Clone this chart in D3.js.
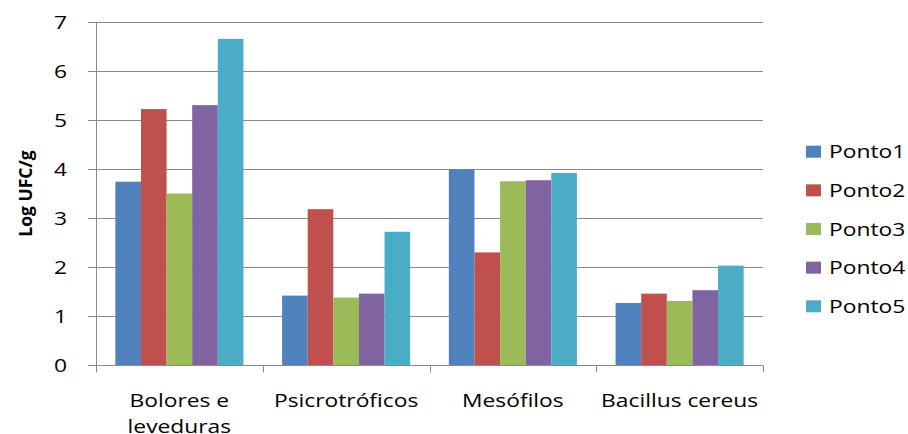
<!DOCTYPE html>
<html><head><meta charset="utf-8">
<script src="https://cdn.jsdelivr.net/npm/d3@7"></script>
<style>body{margin:0;background:#fff}svg{display:block}</style>
</head><body>
<svg id="c" width="908" height="434"></svg>
<script>
const categories = [["Bolores e","leveduras"],["Psicrotróficos"],["Mesófilos"],["Bacillus cereus"]];
const seriesNames = ["Ponto1","Ponto2","Ponto3","Ponto4","Ponto5"];
const ponto1 = [3.74, 1.42, 3.99, 1.27];
const ponto2 = [5.22, 3.18, 2.30, 1.46];
const ponto3 = [3.50, 1.38, 3.75, 1.31];
const ponto4 = [5.30, 1.46, 3.77, 1.53];
const ponto5 = [6.65, 2.72, 3.92, 2.03];
const yTicks = [0,1,2,3,4,5,6,7];
const colors = ["#4F81BD","#C0504D","#9BBB59","#8064A2","#4BACC6"];

(function(){
const series = [ponto1,ponto2,ponto3,ponto4,ponto5];
const svg = d3.select("#c");
const L = 96, R = 763, T = 21.7, B = 365.3;
const font = "'Open Sans', sans-serif";
const stretch = 1.2;
function widen(sel){
  sel.each(function(){
    const w = this.getComputedTextLength();
    d3.select(this).attr("textLength", w*stretch).attr("lengthAdjust","spacingAndGlyphs");
  });
}

const x0 = d3.scaleBand().domain(d3.range(categories.length)).range([L,R]).paddingInner(0.232).paddingOuter(0.116);
const x1 = d3.scaleBand().domain(d3.range(series.length)).range([0,x0.bandwidth()]);
const y = d3.scaleLinear().domain([0,7]).range([B,T]);

// gridlines
svg.append("g").selectAll("line").data(yTicks.filter(d=>d>0)).join("line")
  .attr("x1",L-8).attr("x2",R).attr("y1",d=>Math.round(y(d))+0.5).attr("y2",d=>Math.round(y(d))+0.5)
  .attr("stroke","#8a8a8a").attr("stroke-width",1);

// bars
const g = svg.append("g");
categories.forEach((c,ci)=>{
  series.forEach((s,si)=>{
    g.append("rect").attr("x",x0(ci)+x1(si)).attr("width",x1.bandwidth())
      .attr("y",y(s[ci])).attr("height",y(0)-y(s[ci]))
      .attr("fill",colors[si]);
  });
});

// y axis
const yAxis = d3.axisLeft(y).tickValues(yTicks).tickSize(8).tickPadding(14).tickFormat(d3.format("d"));
const ya = svg.append("g").attr("transform",`translate(${L+0.5},0)`).call(yAxis);
ya.select(".domain").attr("stroke","#8a8a8a").attr("d",`M0,${T}V${B}`);
ya.selectAll(".tick line").attr("stroke","#8a8a8a");
ya.selectAll(".tick").attr("transform",d=>`translate(0,${Math.round(y(d))+0.5})`);
ya.selectAll("text").attr("font-family",font).attr("font-size",19).attr("fill","#000").attr("text-anchor","middle").attr("x",-36).call(widen);

// x axis
const xa = svg.append("g").attr("transform",`translate(0,${Math.round(B)+0.5})`);
xa.append("line").attr("x1",L-8).attr("x2",R).attr("stroke","#8a8a8a");
const bounds = d3.range(categories.length+1).map(i=>L+(R-L)*i/categories.length);
xa.selectAll("line.t").data(bounds).join("line").attr("class","t")
  .attr("x1",d=>Math.round(d)+0.5).attr("x2",d=>Math.round(d)+0.5).attr("y1",0).attr("y2",7).attr("stroke","#8a8a8a");
categories.forEach((c,ci)=>{
  c.forEach((line,li)=>{
    xa.append("text").attr("x",x0(ci)+x0.bandwidth()/2).attr("y",41+li*26)
      .attr("text-anchor","middle").attr("font-family",font).attr("font-size",19).attr("fill","#000")
      .text(line).call(widen);
  });
});

// y title
svg.append("text").attr("transform",`translate(32,${(T+B)/2}) rotate(-90)`)
  .attr("text-anchor","middle").attr("font-family",font).attr("font-weight","bold").attr("font-size",17.5).text("Log UFC/g");

// legend
const lg = svg.append("g");
seriesNames.forEach((n,i)=>{
  const cy = 151.7 + i*38.65;
  lg.append("rect").attr("x",806).attr("y",cy-6).attr("width",15).attr("height",12).attr("fill",colors[i]);
  lg.append("text").attr("x",829).attr("y",cy).attr("dy","0.35em").attr("font-family",font).attr("font-size",19).text(n).call(widen);
});
})();
</script>
</body></html>
